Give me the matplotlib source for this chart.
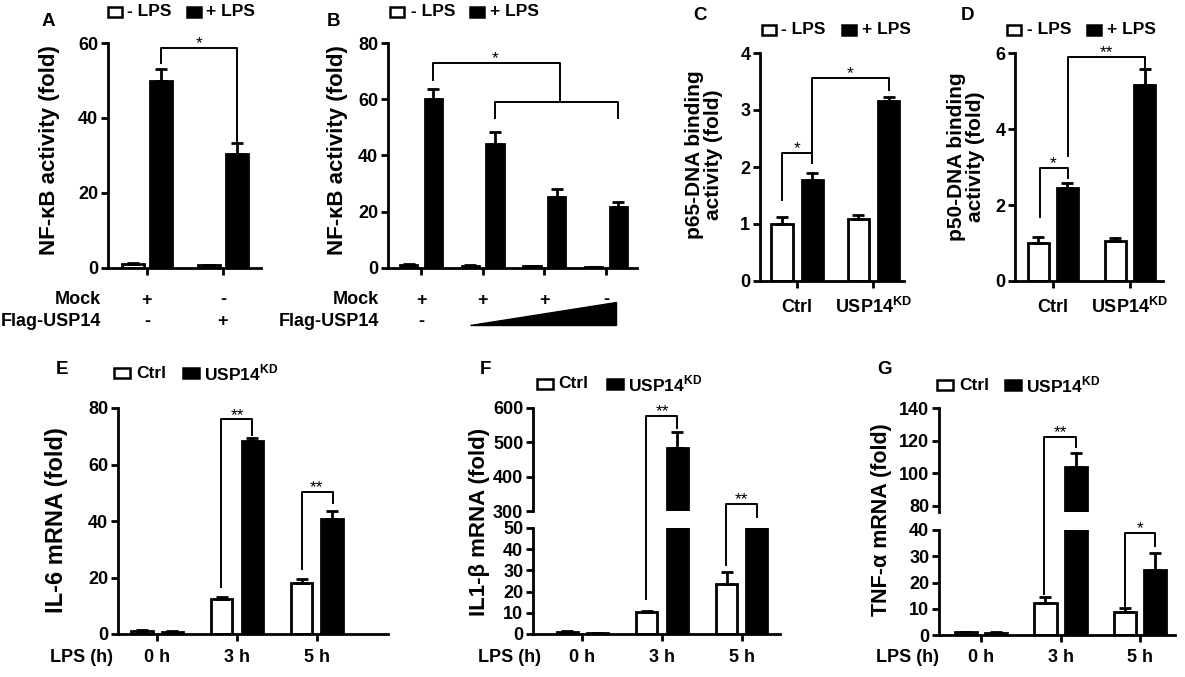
import matplotlib
matplotlib.use('Agg')
import numpy as np
import matplotlib.pyplot as plt
from matplotlib.lines import Line2D
from matplotlib.patches import Rectangle, Polygon
from matplotlib.transforms import blended_transform_factory as btf

plt.rcParams['font.family'] = ['Liberation Sans', 'DejaVu Sans']
plt.rcParams['font.weight'] = 'bold'
plt.rcParams['mathtext.fontset'] = 'custom'
plt.rcParams['mathtext.rm'] = 'Liberation Sans:bold'
plt.rcParams['mathtext.bf'] = 'Liberation Sans:bold'

# ---------------- data ----------------
# Panel A
a_minus = [1.0, 0.7]
a_minus_err = [0.3, 0.2]
a_plus = [50.0, 30.3]
a_plus_err = [3.0, 3.0]
a_mock = ['+', '-']
a_flag = ['-', '+']
# Panel B
b_minus = [1.0, 0.8, 0.6, 0.4]
b_minus_err = [0.3, 0.2, 0.2, 0.1]
b_plus = [60.0, 44.0, 25.4, 21.8]
b_plus_err = [3.6, 4.5, 2.8, 1.8]
b_mock = ['+', '+', '+', '-']
# Panel C
c_groups = ['Ctrl', 'USP14$^{\\mathrm{KD}}$']
c_minus = [1.0, 1.09]
c_minus_err = [0.12, 0.07]
c_plus = [1.77, 3.16]
c_plus_err = [0.12, 0.07]
# Panel D
d_minus = [1.0, 1.05]
d_minus_err = [0.16, 0.08]
d_plus = [2.45, 5.16]
d_plus_err = [0.13, 0.42]
# Panels E-G
times = ['0 h', '3 h', '5 h']
e_ctrl = [1.0, 12.3, 18.0]
e_ctrl_err = [0.3, 0.7, 1.3]
e_kd = [0.7, 68.2, 40.6]
e_kd_err = [0.2, 1.2, 2.9]
f_ctrl = [1.0, 10.2, 23.5]
f_ctrl_err = [0.4, 0.8, 5.8]
f_kd = [0.5, 483.0, 150.0]
f_kd_err = [0.2, 47.0, 10.0]
g_ctrl = [1.0, 12.2, 8.8]
g_ctrl_err = [0.2, 2.3, 1.5]
g_kd = [0.8, 103.9, 24.8]
g_kd_err = [0.2, 8.5, 6.5]

# ---------------- helpers ----------------
W, H = 1185, 677
fig = plt.figure(figsize=(W / 100, H / 100), dpi=100)
inv = fig.transFigure.inverted()


def add_ax(l, t, r, b):
    return fig.add_axes([l / W, 1 - b / H, (r - l) / W, (b - t) / H])


def style(ax, bottom=True):
    for s in ['top', 'right']:
        ax.spines[s].set_visible(False)
    ax.spines['left'].set_linewidth(2)
    ax.spines['bottom'].set_linewidth(2)
    ax.tick_params(width=2, length=5, labelsize=13, pad=2)
    ax.tick_params(axis='x', labelbottom=False)
    if not bottom:
        ax.spines['bottom'].set_visible(False)
        ax.tick_params(axis='x', bottom=False)
    ax.set_facecolor('none')


def bars(ax, v1, e1, v2, e2, off, w):
    x = np.arange(len(v1))
    z = np.zeros(len(v1))
    ax.bar(x - off, v1, w, color='white', edgecolor='black', lw=2, zorder=2)
    ax.bar(x + off, v2, w, color='black', edgecolor='black', lw=2, zorder=2)
    ax.errorbar(x - off, v1, yerr=[z, e1], fmt='none', ecolor='black',
                elinewidth=2, capsize=4.5, capthick=2, zorder=3)
    ax.errorbar(x + off, v2, yerr=[z, e2], fmt='none', ecolor='black',
                elinewidth=2, capsize=4.5, capthick=2, zorder=3)
    ax.set_xticks(x)


def fline(pts, lw=1.4):
    xy = [inv.transform(a.transData.transform((x, y))) for a, x, y in pts]
    fig.add_artist(Line2D([p[0] for p in xy], [p[1] for p in xy],
                          transform=fig.transFigure, color='black', lw=lw))


def star(ax, x, y, s):
    ax.annotate(s, (x, y), xytext=(0, 3), textcoords='offset points',
                ha='center', va='center', fontsize=12.5, fontweight='normal',
                annotation_clip=False)


def ftext(x, y, s, **kw):
    fig.text(x / W, 1 - y / H, s, **kw)


def legend(items, yc, w=14, h=9, fs=12.5):
    for x0, filled, xt, label in items:
        fig.add_artist(Rectangle((x0 / W, 1 - (yc + h / 2) / H), w / W, h / H,
                                 transform=fig.transFigure,
                                 fc='black' if filled else 'white',
                                 ec='black', lw=1.8))
        ftext(xt, yc, label, ha='left', va='center', fontsize=fs)


def rowtext(ax, x, y, s, fs=13):
    ax.text(x, 1 - y / H, s, transform=btf(ax.transData, fig.transFigure),
            ha='center', va='center', fontsize=fs, clip_on=False)


# ---------------- Panel A ----------------
axA = add_ax(108, 43, 261, 268)
style(axA)
bars(axA, a_minus, a_minus_err, a_plus, a_plus_err, 0.19, 0.29)
axA.set_xlim(-0.513, 1.5)
axA.set_ylim(0, 60)
axA.set_yticks([0, 20, 40, 60])
fline([(axA, 0.19, 54.7), (axA, 0.19, 58.7), (axA, 1.19, 58.7), (axA, 1.19, 33.6)])
star(axA, 0.69, 58.7, '*')
for i in range(2):
    rowtext(axA, i, 300, a_mock[i])
    rowtext(axA, i, 321, a_flag[i])
ftext(101, 300, 'Mock', ha='right', va='center', fontsize=13)
ftext(101, 321, 'Flag-USP14', ha='right', va='center', fontsize=13)
ftext(48, 22, 'A', ha='center', va='center', fontsize=13.5)
ftext(50, 150, 'NF-κB activity (fold)', rotation=90, ha='center', va='center', fontsize=16)
legend([(108, False, 127, '- LPS'), (187, True, 206, '+ LPS')], 12)

# ---------------- Panel B ----------------
axB = add_ax(388, 43, 637, 268)
style(axB)
bars(axB, b_minus, b_minus_err, b_plus, b_plus_err, 0.2, 0.28)
axB.set_xlim(-0.535, 3.5)
axB.set_ylim(0, 80)
axB.set_yticks([0, 20, 40, 60, 80])
fline([(axB, 0.2, 67), (axB, 0.2, 73), (axB, 2.25, 73), (axB, 2.25, 59)])
fline([(axB, 1.2, 53.5), (axB, 1.2, 59), (axB, 3.2, 59), (axB, 3.2, 53.5)])
star(axB, 1.2, 73, '*')
for i in range(4):
    rowtext(axB, i, 300, b_mock[i])
rowtext(axB, 0, 321, '-')
axB.add_patch(Polygon([(0.79, 1 - 325 / H), (3.16, 1 - 325 / H), (3.16, 1 - 302 / H)],
                      closed=True, transform=btf(axB.transData, fig.transFigure),
                      fc='black', ec='black', clip_on=False))
ftext(379, 300, 'Mock', ha='right', va='center', fontsize=13)
ftext(379, 321, 'Flag-USP14', ha='right', va='center', fontsize=13)
ftext(333, 22, 'B', ha='center', va='center', fontsize=13.5)
ftext(338, 150, 'NF-κB activity (fold)', rotation=90, ha='center', va='center', fontsize=16)
legend([(390, False, 411, '- LPS'), (470, True, 490, '+ LPS')], 12)

# ---------------- Panel C ----------------
axC = add_ax(760, 53, 904, 281)
style(axC)
bars(axC, c_minus, c_minus_err, c_plus, c_plus_err, 0.2, 0.28)
axC.set_xlim(-0.487, 1.4)
axC.set_ylim(0, 4)
axC.set_yticks([0, 1, 2, 3, 4])
fline([(axC, -0.2, 1.42), (axC, -0.2, 2.25), (axC, 0.2, 2.25), (axC, 0.2, 2.07)])
fline([(axC, 0.2, 2.25), (axC, 0.2, 3.56), (axC, 1.2, 3.56), (axC, 1.2, 3.35)])
star(axC, 0.0, 2.25, '*')
star(axC, 0.7, 3.56, '*')
for i in range(2):
    rowtext(axC, i, 307, c_groups[i], fs=13)
ftext(700, 15, 'C', ha='center', va='center', fontsize=13.5)
ftext(704, 155, 'p65-DNA binding\nactivity (fold)', rotation=90, ha='center',
      va='center', fontsize=15, linespacing=1.05, multialignment='center')
legend([(762, False, 781, '- LPS'), (842, True, 862, '+ LPS')], 30)

# ---------------- Panel D ----------------
axD = add_ax(1015, 53, 1163, 281)
style(axD)
bars(axD, d_minus, d_minus_err, d_plus, d_plus_err, 0.19, 0.27)
axD.set_xlim(-0.49, 1.43)
axD.set_ylim(0, 6)
axD.set_yticks([0, 2, 4, 6])
fline([(axD, -0.17, 1.68), (axD, -0.17, 2.97), (axD, 0.2, 2.97), (axD, 0.2, 2.7)])
fline([(axD, 0.2, 3.3), (axD, 0.2, 5.9), (axD, 1.19, 5.9), (axD, 1.19, 5.63)])
star(axD, 0.01, 2.97, '*')
star(axD, 0.7, 5.9, '**')
for i in range(2):
    rowtext(axD, i, 307, c_groups[i], fs=13)
ftext(968, 15, 'D', ha='center', va='center', fontsize=13.5)
ftext(966, 157, 'p50-DNA binding\nactivity (fold)', rotation=90, ha='center',
      va='center', fontsize=15, linespacing=1.05, multialignment='center')
legend([(1007, False, 1027, '- LPS'), (1087, True, 1107, '+ LPS')], 30)

# ---------------- Panel E ----------------
axE = add_ax(118, 408, 388, 634)
style(axE)
bars(axE, e_ctrl, e_ctrl_err, e_kd, e_kd_err, 0.19, 0.265)
axE.set_xlim(-0.49, 2.89)
axE.set_ylim(0, 80)
axE.set_yticks([0, 20, 40, 60, 80])
fline([(axE, 0.8, 16.6), (axE, 0.8, 76), (axE, 1.19, 76), (axE, 1.19, 70.4)])
fline([(axE, 1.81, 23), (axE, 1.81, 50.3), (axE, 2.2, 50.3), (axE, 2.2, 46.4)])
star(axE, 1.0, 76, '**')
star(axE, 2.0, 50.3, '**')
for i in range(3):
    rowtext(axE, i, 658, times[i], fs=13)
ftext(82, 658, 'LPS (h)', ha='center', va='center', fontsize=13)
ftext(62, 370, 'E', ha='center', va='center', fontsize=13.5)
ftext(56, 520, 'IL-6 mRNA (fold)', rotation=90, ha='center', va='center', fontsize=17)
legend([(114, False, 136, 'Ctrl'), (183, True, 204, 'USP14$^{\\mathrm{KD}}$')], 373, w=16, h=10)

# ---------------- Panel F (broken axis) ----------------
axFu = add_ax(533, 408, 780, 511)
axFl = add_ax(533, 528, 780, 634)
style(axFu, bottom=False)
style(axFl)
for ax in (axFu, axFl):
    bars(ax, f_ctrl, f_ctrl_err, f_kd, f_kd_err, 0.19, 0.265)
    ax.set_xlim(-0.62, 2.48)
axFu.set_ylim(300, 600)
axFu.set_yticks([300, 400, 500, 600])
axFu.tick_params(axis='x', bottom=False)
axFl.set_ylim(0, 50)
axFl.set_yticks([0, 10, 20, 30, 40, 50])
fline([(axFl, 0.8, 16.5), (axFu, 0.8, 577), (axFu, 1.19, 577), (axFu, 1.19, 541)])
fline([(axFl, 1.8, 32.5), (axFu, 1.8, 320), (axFu, 2.19, 320), (axFu, 2.19, 283)])
star(axFu, 1.0, 577, '**')
star(axFu, 2.0, 320, '**')
for i in range(3):
    rowtext(axFl, i, 658, times[i], fs=13)
ftext(510, 658, 'LPS (h)', ha='center', va='center', fontsize=13)
ftext(485, 370, 'F', ha='center', va='center', fontsize=13.5)
ftext(480, 522, 'IL1-β mRNA (fold)', rotation=90, ha='center', va='center', fontsize=16)
legend([(537, False, 558, 'Ctrl'), (607, True, 628, 'USP14$^{\\mathrm{KD}}$')], 384, w=16, h=10)

# ---------------- Panel G (broken axis) ----------------
axGu = add_ax(939, 408, 1175, 512)
axGl = add_ax(939, 530, 1175, 635)
style(axGu, bottom=False)
style(axGl)
for ax in (axGu, axGl):
    bars(ax, g_ctrl, g_ctrl_err, g_kd, g_kd_err, 0.19, 0.28)
    ax.set_xlim(-0.53, 2.44)
axGu.set_ylim(76, 140)
axGu.set_yticks([80, 100, 120, 140])
axGu.tick_params(axis='x', bottom=False)
axGl.set_ylim(0, 40)
axGl.set_yticks([0, 10, 20, 30, 40])
fline([(axGl, 0.79, 15.5), (axGu, 0.79, 122), (axGu, 1.19, 122), (axGu, 1.19, 116)])
fline([(axGl, 1.81, 11.2), (axGl, 1.81, 38.8), (axGl, 2.19, 38.8), (axGl, 2.19, 34)])
star(axGu, 1.0, 122, '**')
star(axGl, 2.0, 38.8, '*')
for i in range(3):
    rowtext(axGl, i, 658, times[i], fs=13)
ftext(907, 658, 'LPS (h)', ha='center', va='center', fontsize=13)
ftext(885, 370, 'G', ha='center', va='center', fontsize=13.5)
ftext(882, 520, 'TNF-α mRNA (fold)', rotation=90, ha='center', va='center', fontsize=15.5)
legend([(937, False, 959, 'Ctrl'), (1005, True, 1026, 'USP14$^{\\mathrm{KD}}$')], 385, w=16, h=10)

fig.savefig('out.png', dpi=100)
